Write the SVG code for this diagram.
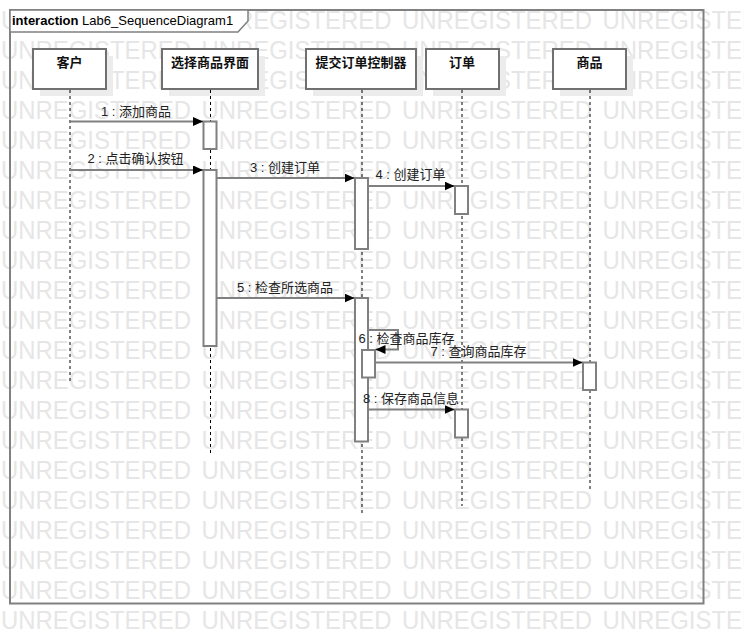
<svg xmlns="http://www.w3.org/2000/svg" xmlns:xlink="http://www.w3.org/1999/xlink" width="744" height="644" viewBox="0 0 744 644">
<style>
.wm{font-family:"Liberation Sans",Arial,sans-serif;font-size:26px;fill:#e6e6e6}
.frame{fill:none;stroke:#808080;stroke-width:2}
.tab{fill:#ffffff;stroke:#808080;stroke-width:1.5}
.title{font-family:"Liberation Sans","Noto Sans CJK SC",sans-serif;font-size:13px;fill:#000}
.head{fill:#ffffff;stroke:#707070;stroke-width:2}
.shadow{fill:#ececec;stroke:none}
.htext{font-family:"Liberation Sans","Noto Sans CJK SC",sans-serif;font-size:13px;font-weight:bold;fill:#111;text-anchor:middle}
.life{stroke:#000;stroke-width:1;stroke-dasharray:3,3;fill:none}
.act{fill:#ffffff;stroke:#808080;stroke-width:2}
.msg{stroke:#808080;stroke-width:2;fill:none;marker-end:url(#arr)}
.lbl{font-family:"Liberation Sans","Noto Sans CJK SC",sans-serif;font-size:13px;fill:#222;text-anchor:middle}
</style>
<defs>
<marker id="arr" markerUnits="userSpaceOnUse" markerWidth="11" markerHeight="9" refX="10" refY="4.5" orient="auto">
<path d="M0,0 L10,4.5 L0,9 z" fill="#000"/>
</marker>
<g id="wmrow">
<text class="wm" x="1" y="0" textLength="190" lengthAdjust="spacingAndGlyphs">UNREGISTERED</text>
<text class="wm" x="201.5" y="0" textLength="190" lengthAdjust="spacingAndGlyphs">UNREGISTERED</text>
<text class="wm" x="402" y="0" textLength="190" lengthAdjust="spacingAndGlyphs">UNREGISTERED</text>
<text class="wm" x="602.5" y="0" textLength="190" lengthAdjust="spacingAndGlyphs">UNREGISTERED</text>
</g>
</defs>
<rect x="0" y="0" width="744" height="644" fill="#ffffff"/>
<g id="watermark">
<use href="#wmrow" y="29"/><use href="#wmrow" y="59"/><use href="#wmrow" y="89"/><use href="#wmrow" y="119"/>
<use href="#wmrow" y="149"/><use href="#wmrow" y="179"/><use href="#wmrow" y="209"/><use href="#wmrow" y="239"/>
<use href="#wmrow" y="269"/><use href="#wmrow" y="299"/><use href="#wmrow" y="329"/><use href="#wmrow" y="359"/>
<use href="#wmrow" y="389"/><use href="#wmrow" y="419"/><use href="#wmrow" y="449"/><use href="#wmrow" y="479"/>
<use href="#wmrow" y="509"/><use href="#wmrow" y="539"/><use href="#wmrow" y="569"/><use href="#wmrow" y="599"/>
<use href="#wmrow" y="629"/>
</g>
<g id="frame">
<rect class="frame" x="10" y="10" width="693.5" height="593.5"/>
<path class="tab" d="M10,10 H248 V21 L238,32 H10 Z"/>
<text class="title" x="12" y="25"><tspan font-weight="bold">interaction</tspan> Lab6_SequenceDiagram1</text>
</g>
<g id="kehu">
<rect class="shadow" x="40" y="56" width="73" height="40"/>
<rect class="head" x="33" y="49" width="73" height="40"/>
<text class="htext" x="69.5" y="67">客户</text>
<line class="life" x1="70" y1="90" x2="70" y2="383"/>
</g>
<g id="xuanze">
<rect class="shadow" x="169" y="56" width="96" height="40"/>
<rect class="head" x="162" y="49" width="96" height="40"/>
<text class="htext" x="210" y="67">选择商品界面</text>
<line class="life" x1="210.5" y1="90" x2="210.5" y2="453"/>
<rect class="act" x="203.5" y="121.5" width="13" height="27.5"/>
<rect class="act" x="203.5" y="170" width="13" height="176"/>
</g>
<g id="tijiao">
<rect class="shadow" x="313" y="56" width="110" height="40"/>
<rect class="head" x="306" y="49" width="110" height="40"/>
<text class="htext" x="361" y="67">提交订单控制器</text>
<line class="life" x1="362" y1="90" x2="362" y2="513"/>
<rect class="act" x="355" y="178" width="13" height="71"/>
<rect class="act" x="355" y="298" width="13" height="143.5"/>
<rect class="act" x="362" y="350" width="13" height="27.5"/>
</g>
<g id="dingdan">
<rect class="shadow" x="433" y="56" width="73" height="40"/>
<rect class="head" x="426" y="49" width="73" height="40"/>
<text class="htext" x="462" y="67">订单</text>
<line class="life" x1="462" y1="90" x2="462" y2="506"/>
<rect class="act" x="455" y="186" width="13" height="28"/>
<rect class="act" x="455" y="409.5" width="13" height="28"/>
</g>
<g id="shangpin">
<rect class="shadow" x="560" y="56" width="73" height="40"/>
<rect class="head" x="553" y="49" width="73" height="40"/>
<text class="htext" x="589.5" y="67">商品</text>
<line class="life" x1="590" y1="90" x2="590" y2="489"/>
<rect class="act" x="583" y="362.5" width="13" height="27.5"/>
</g>
<g id="connectors">
<line class="msg" x1="70" y1="121.5" x2="203" y2="121.5"/>
<text class="lbl" x="136" y="116">1 : 添加商品</text>
<line class="msg" x1="70" y1="170" x2="203" y2="170"/>
<text class="lbl" x="135.5" y="163">2 : 点击确认按钮</text>
<line class="msg" x1="217" y1="178" x2="354.5" y2="178"/>
<text class="lbl" x="285" y="172">3 : 创建订单</text>
<line class="msg" x1="368.5" y1="186" x2="454.5" y2="186"/>
<text class="lbl" x="410.5" y="179">4 : 创建订单</text>
<line class="msg" x1="217" y1="298" x2="354.5" y2="298"/>
<text class="lbl" x="285" y="292">5 : 检查所选商品</text>
<path class="msg" d="M368.5,330 H398 V349.5 H375.5"/>
<text class="lbl" x="406.5" y="343">6 : 检查商品库存</text>
<line class="msg" x1="375.5" y1="362.5" x2="582.5" y2="362.5"/>
<text class="lbl" x="478.5" y="356">7 : 查询商品库存</text>
<line class="msg" x1="368.5" y1="409.5" x2="454.5" y2="409.5"/>
<text class="lbl" x="411" y="403">8 : 保存商品信息</text>
</g>
</svg>
